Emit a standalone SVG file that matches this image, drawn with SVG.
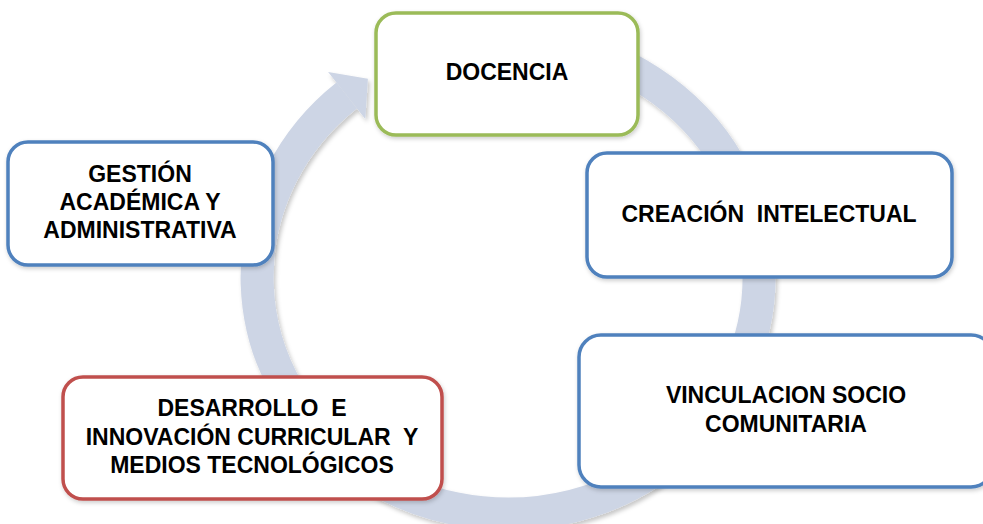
<svg xmlns="http://www.w3.org/2000/svg" width="983" height="524" viewBox="0 0 983 524">
  <defs>
    <filter id="shadow" x="-10%" y="-10%" width="120%" height="120%">
      <feDropShadow dx="2" dy="3" stdDeviation="2" flood-color="#000" flood-opacity="0.22"/>
    </filter>
    <filter id="boxshadow" x="-10%" y="-10%" width="120%" height="130%">
      <feDropShadow dx="1" dy="2" stdDeviation="2" flood-color="#000" flood-opacity="0.2"/>
    </filter>
  </defs>
  <style>
    .box { fill: #ffffff; stroke-width: 3.5; filter: url(#boxshadow); }
    .blue { stroke: #4F81BD; }
    .green { stroke: #9BBB59; }
    .red { stroke: #C0504D; }
    .lbl { font-family: "Liberation Sans", Arial, sans-serif; font-weight: bold; font-size: 23px; fill: #000; text-anchor: middle; white-space: pre; }
    .ring { fill: none; stroke: #CDD5E5; stroke-width: 33; }
    .head { fill: #CDD5E5; }
  </style>
  <rect width="983" height="524" fill="#ffffff"/>

  <g id="connectors" filter="url(#shadow)">
    <path class="ring" d="M 551.6 43.6 A 251 237 0 1 1 346.7 95.5"/>
    <polygon class="head" points="328.1,72 367.9,78.7 365.3,119"/>
  </g>

  <g id="docencia">
    <rect class="box green" x="376" y="13" width="262" height="122" rx="20" ry="20"/>
    <text class="lbl" x="507" y="80">DOCENCIA</text>
  </g>

  <g id="creacion">
    <rect class="box blue" x="587" y="153" width="365" height="124" rx="20" ry="20"/>
    <text class="lbl" x="769" y="222">CREACIÓN  INTELECTUAL</text>
  </g>

  <g id="vinculacion">
    <rect class="box blue" x="579" y="335" width="414" height="152" rx="22" ry="22"/>
    <text class="lbl" x="786" y="403">VINCULACION SOCIO</text>
    <text class="lbl" x="786" y="432">COMUNITARIA</text>
  </g>

  <g id="desarrollo">
    <rect class="box red" x="63" y="377" width="379" height="122" rx="20" ry="20"/>
    <text class="lbl" x="252" y="416">DESARROLLO  E</text>
    <text class="lbl" x="252" y="445">INNOVACIÓN CURRICULAR  Y</text>
    <text class="lbl" x="252" y="473">MEDIOS TECNOLÓGICOS</text>
  </g>

  <g id="gestion">
    <rect class="box blue" x="8" y="142" width="265" height="123" rx="20" ry="20"/>
    <text class="lbl" x="140" y="182">GESTIÓN</text>
    <text class="lbl" x="140" y="210">ACADÉMICA Y</text>
    <text class="lbl" x="140" y="238">ADMINISTRATIVA</text>
  </g>
</svg>
